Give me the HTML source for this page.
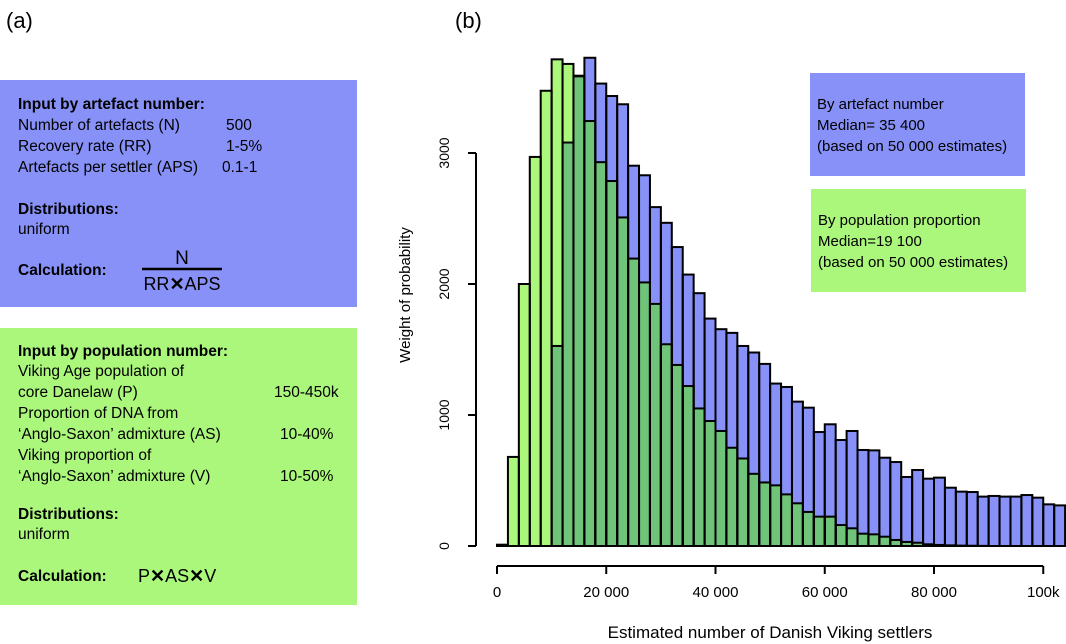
<!DOCTYPE html>
<html><head><meta charset="utf-8"><style>
html,body{margin:0;padding:0;background:#fff;}
svg{display:block;font-family:"Liberation Sans",sans-serif;}
</style></head><body>
<svg id="fig" width="1066" height="644" viewBox="0 0 1066 644">
<text x="6" y="28" font-size="22">(a)</text>
<text x="455" y="28" font-size="22">(b)</text>

<g font-size="15.5">
<rect x="0" y="80" width="357" height="227" fill="#8891f7"/>
<text x="18" y="109" font-weight="bold">Input by artefact number:</text>
<text x="18" y="130">Number of artefacts (N)</text><text x="226" y="130">500</text>
<text x="18" y="151">Recovery rate (RR)</text><text x="226" y="151">1-5%</text>
<text x="18" y="172">Artefacts per settler (APS)</text><text x="222" y="172">0.1-1</text>
<text x="18" y="214" font-weight="bold">Distributions:</text>
<text x="18" y="234">uniform</text>
<text x="18" y="275" font-weight="bold">Calculation:</text>
<text x="182" y="264" font-size="19" text-anchor="middle">N</text>
<line x1="142" y1="269" x2="222" y2="269" stroke="#000" stroke-width="2.5"/>
<text x="182" y="290" font-size="18" text-anchor="middle">RR<tspan font-weight="bold">✕</tspan>APS</text>
</g>

<g font-size="15.5">
<rect x="0" y="328" width="357" height="277" fill="#aaf77c"/>
<text x="18" y="356" font-weight="bold">Input by population number:</text>
<text x="18" y="376">Viking Age population of</text>
<text x="18" y="397">core Danelaw (P)</text><text x="274" y="397">150-450k</text>
<text x="18" y="418">Proportion of DNA from</text>
<text x="18" y="439">‘Anglo-Saxon’ admixture (AS)</text><text x="280" y="439">10-40%</text>
<text x="18" y="460">Viking proportion of</text>
<text x="18" y="481">‘Anglo-Saxon’ admixture (V)</text><text x="280" y="481">10-50%</text>
<text x="18" y="519" font-weight="bold">Distributions:</text>
<text x="18" y="539">uniform</text>
<text x="18" y="581" font-weight="bold">Calculation:</text>
<text x="138" y="582" font-size="18">P<tspan font-weight="bold">✕</tspan>AS<tspan font-weight="bold">✕</tspan>V</text>
</g>

<g id="bars"></g>
<g id="axes"></g>

<g font-size="15">
<g>
<rect x="810" y="73" width="215" height="103" fill="#8891f7"/>
<text x="817" y="109">By artefact number</text>
<text x="817" y="130">Median= 35 400</text>
<text x="817" y="151">(based on 50 000 estimates)</text>
</g>
<g>
<rect x="811" y="189" width="215" height="103" fill="#aaf77c"/>
<text x="818" y="225">By population proportion</text>
<text x="818" y="246">Median=19 100</text>
<text x="818" y="267">(based on 50 000 estimates)</text>
</g>
</g>
</svg>
<script>
const binStarts = [0,2,4,6,8,10,12,14,16,18,20,22,24,26,28,30,32,34,36,38,40,42,44,46,48,50,52,54,56,58,60,62,64,66,68,70,72,74,76,78,80,82,84,86,88,90,92,94,96,98,100,102];
const artefactValues = [0,0,0,0,0,1527,3080,3590,3727,3530,3435,3372,2903,2830,2587,2467,2282,2072,1930,1736,1655,1627,1527,1477,1390,1240,1214,1102,1056,870,929,809,878,733,730,674,641,527,580,514,522,445,415,412,377,382,377,377,389,369,318,310];
const populationValues = [10,680,2000,2970,3475,3715,3680,3585,3244,2930,2786,2508,2194,2012,1848,1540,1382,1221,1050,954,878,750,668,551,485,463,394,326,260,224,224,160,135,94,89,71,46,31,25,13,8,5,3,2,1,0,0,0,0,0,0,0];
const xTicks = [0,20,40,60,80,100];
const xTickLabels = ["0","20 000","40 000","60 000","80 000","100k"];
const yTicks = [0,1000,2000,3000];
const yTickLabels = ["0","1000","2000","3000"];

const NS = "http://www.w3.org/2000/svg";
const X0 = 497, PX_PER_K = 5.4625, Y0 = 546, PX_PER_UNIT = 0.131;
const xs = k => X0 + k * PX_PER_K;
const ys = v => Y0 - v * PX_PER_UNIT;
const binW = 2;
function mk(tag, attrs, parent){const e=document.createElementNS(NS,tag);for(const k in attrs)e.setAttribute(k,attrs[k]);parent.appendChild(e);return e;}
const bars = document.getElementById('bars');
const axes = document.getElementById('axes');
const BLUE="#8891f7", LGREEN="#aaf77c", DGREEN="#70c47a";
binStarts.forEach((b,i)=>{
  const x=xs(b), w=xs(b+binW)-x;
  const a=artefactValues[i], p=populationValues[i], m=Math.min(a,p);
  if(a>0){const r=mk('rect',{x:x,y:ys(a),width:w,height:Y0-ys(a),fill:BLUE},bars);
    
    }
  if(p>0){const r=mk('rect',{x:x,y:ys(p),width:w,height:Y0-ys(p),fill:LGREEN},bars);
    
    }
  if(m>0){const r=mk('rect',{x:x,y:ys(m),width:w,height:Y0-ys(m),fill:DGREEN},bars);
    
    }
});
binStarts.forEach((b,i)=>{
  const x=xs(b), w=xs(b+binW)-x;
  [artefactValues[i],populationValues[i]].forEach(v=>{
    const o=mk('rect',{x:x,y:ys(v),width:w,height:Y0-ys(v),fill:"none",stroke:"#000","stroke-width":2},bars);
    
    
  });
});
const xl=mk('line',{x1:xs(0),x2:xs(100),y1:566,y2:566,stroke:"#000","stroke-width":2},axes);


xTicks.forEach((t,i)=>{
  mk('line',{x1:xs(t),x2:xs(t),y1:566,y2:574,stroke:"#000","stroke-width":2},axes);
  const tx=mk('text',{x:xs(t),y:597,"font-size":15,"text-anchor":"middle"},axes);
  tx.textContent=xTickLabels[i];
  
  
});
const xt=mk('text',{x:770,y:638,"font-size":17,"text-anchor":"middle"},axes);
xt.textContent="Estimated number of Danish Viking settlers";


const yl=mk('line',{x1:476,x2:476,y1:ys(0),y2:ys(3000),stroke:"#000","stroke-width":2},axes);


yTicks.forEach((t,i)=>{
  mk('line',{x1:468,x2:476,y1:ys(t),y2:ys(t),stroke:"#000","stroke-width":2},axes);
  const tx=mk('text',{x:0,y:0,"font-size":14,"text-anchor":"middle",transform:`translate(449,${ys(t)}) rotate(-90)`},axes);
  tx.textContent=yTickLabels[i];
  
  
});
const yt=mk('text',{x:0,y:0,"font-size":15,"text-anchor":"middle",transform:"translate(410,295) rotate(-90)"},axes);
yt.textContent="Weight of probability";


</script>
</body></html>
